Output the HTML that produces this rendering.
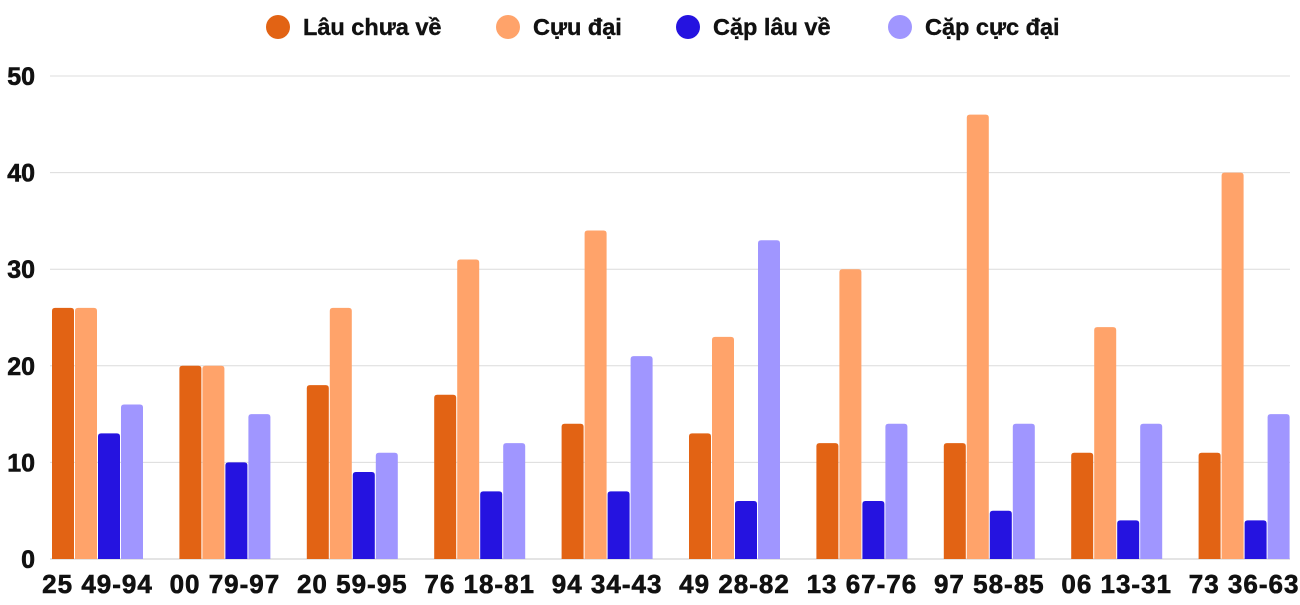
<!DOCTYPE html>
<html><head><meta charset="utf-8"><style>
body{margin:0;background:#fff;width:1300px;height:600px;overflow:hidden;font-family:"Liberation Sans",sans-serif}
</style></head><body>
<svg id="chart" width="1300" height="600" xmlns="http://www.w3.org/2000/svg"></svg>
<script>
const categories=["25 49-94","00 79-97","20 59-95","76 18-81","94 34-43","49 28-82","13 67-76","97 58-85","06 13-31","73 36-63"];
const seriesNames=["Lâu chưa về","Cựu đại","Cặp lâu về","Cặp cực đại"];
const lauChuaVe=[26,20,18,17,14,13,12,12,11,11];
const cuuDai=[26,20,26,31,34,23,30,46,24,40];
const capLauVe=[13,10,9,7,7,6,6,5,4,4];
const capCucDai=[16,15,11,12,21,33,14,14,14,15];
const yTicks=[0,10,20,30,40,50];
const series=[lauChuaVe,cuuDai,capLauVe,capCucDai];
const colors=["#e26314","#ffa36a","#2513e0","#a096ff"];
const svg=document.getElementById('chart');
const NS="http://www.w3.org/2000/svg";
const y0=559,yTop=76,yMax=50;
const yScale=v=>y0-(v/yMax)*(y0-yTop);
const band=127.4,firstCenter=97.5,barW=22,step=23;
const xCenter=i=>firstCenter+i*band;
function mk(tag,attrs,parent){const e=document.createElementNS(NS,tag);for(const k in attrs)e.setAttribute(k,attrs[k]);(parent||svg).appendChild(e);return e;}
yTicks.forEach(t=>{
  const y=yScale(t);
  const l=mk('line',{x1:50,x2:1290,y1:y,y2:y,stroke:t===0?'#c8c8c8':'#dcdcdc','stroke-width':1});
  
  
  const tx=mk('text',{x:35,y:y+9,'text-anchor':'end','font-size':25,'font-weight':'bold',fill:'#111','stroke':'#111','stroke-width':0.6});
  tx.textContent=t;
  
  
});
categories.forEach((c,i)=>{
  const cx=xCenter(i);
  series.forEach((s,j)=>{
    const x=cx-2*step+j*step+0.5;
    const y=yScale(s[i]);
    const r=mk('path',{d:`M${x},${y0}V${y+3}Q${x},${y} ${x+3},${y}H${x+barW-3}Q${x+barW},${y} ${x+barW},${y+3}V${y0}Z`,fill:colors[j]});
    
    
  });
  const t=mk('text',{x:cx,y:593,'text-anchor':'middle','font-size':26,'font-weight':'bold',fill:'#111','letter-spacing':1,'stroke':'#111','stroke-width':0.6});
  t.textContent=c;
  
  
});
const legX=[278,508,688,900];
seriesNames.forEach((n,j)=>{
  const g=mk('g',{});
  
  
  mk('circle',{cx:legX[j],cy:27,r:12,fill:colors[j]},g);
  const t=mk('text',{x:legX[j]+25,y:35,'font-size':23.5,'font-weight':'bold',fill:'#111','stroke':'#111','stroke-width':0.4},g);
  t.textContent=n;
});
</script>
</body></html>
